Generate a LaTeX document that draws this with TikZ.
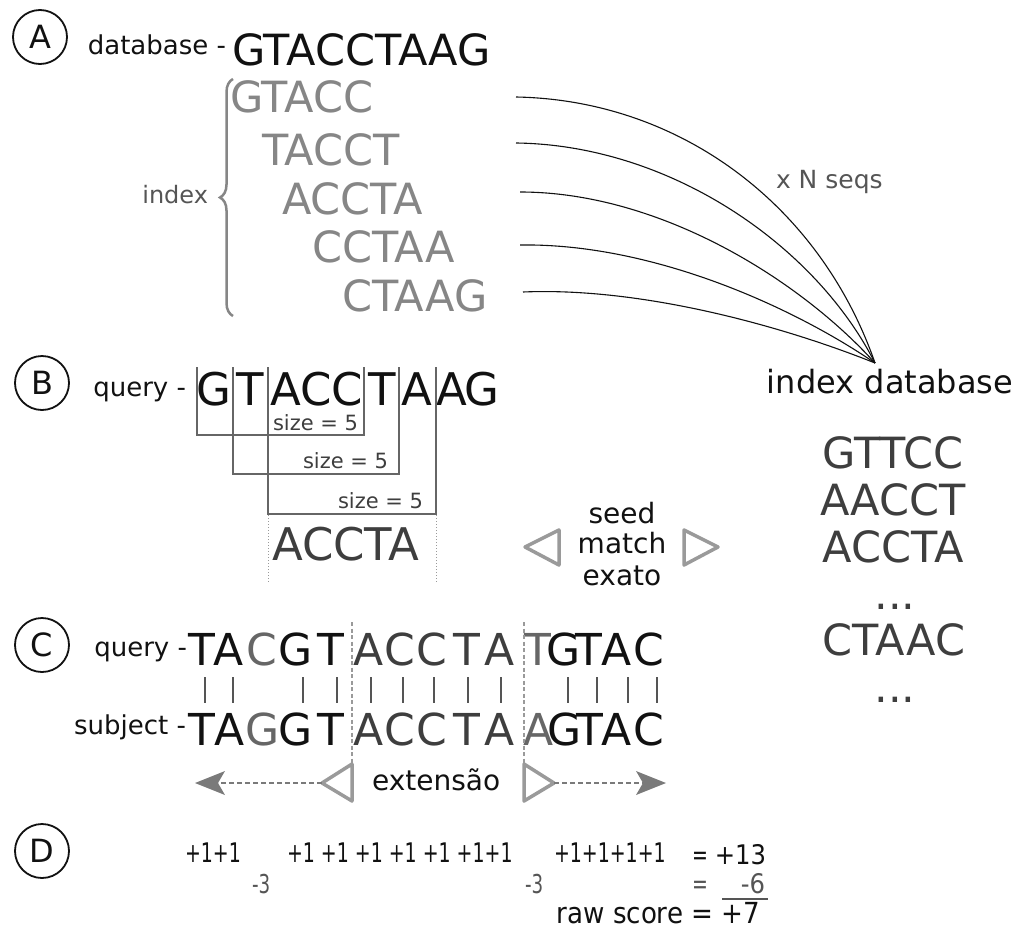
\documentclass[tikz,border=0pt]{standalone}
\usepackage{fontspec}
\setmainfont{DejaVu Sans}
\newfontfamily\condfont{DejaVu Sans Condensed}
\usetikzlibrary{decorations.pathreplacing, arrows.meta}
\newcommand\sz[1]{\fontsize{#1}{#1}\selectfont}
\newcommand\scoretxt[1]{\scalebox{0.78}[1]{#1}}

\definecolor{ink}{HTML}{111111}
\definecolor{kmer}{HTML}{868686}
\definecolor{note}{HTML}{555555}
\definecolor{seedc}{HTML}{3E3E3E}
\definecolor{midg}{HTML}{666666}
\definecolor{lightg}{HTML}{9A9A9A}
\definecolor{headg}{HTML}{7A7A7A}

\begin{document}
\begin{tikzpicture}[x=1pt, y=-1pt,
  txt/.style={inner sep=0pt, outer sep=0pt},
  tag/.style={circle, draw=ink, line width=1.8pt, minimum size=54pt, inner sep=0pt, font=\sz{32}, text=ink},
  kmerline/.style={txt, anchor=base west, font=\sz{43}, text=kmer},
  dbline/.style={txt, anchor=base, font=\sz{43}, text=seedc},
  fan/.style={draw=ink, line width=1.1pt},
  bracket/.style={draw=midg, line width=2pt},
  sizelbl/.style={txt, anchor=base west, font=\sz{21}, text=seedc},
  guide/.style={draw=lightg, line width=1pt, dotted},
  cut/.style={draw=lightg, line width=1.5pt, dash pattern=on 4pt off 2.5pt},
  opentri/.style={draw=lightg, line width=3.5pt, line join=round},
  extarrow/.style={draw=headg, line width=2pt, dash pattern=on 5pt off 3pt,
                   -{Stealth[length=30pt, width=24pt, inset=7pt, fill=headg, line width=0pt, sep=0pt]}},
  pairbar/.style={draw=note, line width=2pt},
  score/.style={txt, anchor=base west, font=\condfont\sz{27}, text=ink},
  penalty/.style={txt, anchor=base west, font=\condfont\sz{26}, text=note},
]
\useasboundingbox (0,0) rectangle (1024,931);

% ---------------- A: building the word index ----------------
\node[tag] (tA) at (40,37) {A};
\node[txt, anchor=base east, font=\sz{26}, text=ink] (dblbl) at (226,55) {database -};
\node[txt, anchor=base west, font=\sz{43}, text=ink] (dbseq) at (232,66) {GTACCTAAG};

\node[kmerline] (k1) at (230,113) {GTACC};
\node[kmerline] (k2) at (262,165) {TACCT};
\node[kmerline] (k3) at (282,214) {ACCTA};
\node[kmerline] (k4) at (312,262) {CCTAA};
\node[kmerline] (k5) at (342,311) {CTAAG};

\draw[decorate, decoration={brace, amplitude=13pt}, draw=kmer, line width=2.5pt]
  (233,316) -- (233,79);
\node[txt, anchor=base east, font=\sz{24}, text=note] (idxlbl) at (208,203) {index};

% fan of words into the index
\coordinate (s1) at (516,97);
\coordinate (s2) at (516,143);
\coordinate (s3) at (520,192);
\coordinate (s4) at (520,245);
\coordinate (s5) at (523,292);
\coordinate (hub) at (875,363);
\draw[fan] (s1) .. controls (680,100) and (820,205) .. (hub);
\draw[fan] (s2) .. controls (670,145) and (815,245) .. (hub);
\draw[fan] (s3) .. controls (660,192) and (800,280) .. (hub);
\draw[fan] (s4) .. controls (650,243) and (790,305) .. (hub);
\draw[fan] (s5) .. controls (640,287) and (780,325) .. (hub);
\node[txt, anchor=base west, font=\sz{25}, text=note] (nseqs) at (776,188) {x N seqs};

\node[txt, anchor=base, font=\sz{32}, text=ink] (idb) at (890,393) {index database};
\node[dbline] (d1) at (893,468) {GTTCC};
\node[dbline] (d2) at (893,515) {AACCT};
\node[dbline] (d3) at (893,562) {ACCTA};
\node[dbline] (d4) at (895,609) {...};
\node[dbline] (d5) at (894,655) {CTAAC};
\node[dbline] (d6) at (895,702) {...};

% ---------------- B: cutting the query into words ----------------
\node[tag] (tB) at (42,383) {B};
\node[txt, anchor=base east, font=\sz{26}, text=ink] (qlblB) at (186,396) {query -};
\foreach \x/\l [count=\i] in {214/G, 250/T, 286/A, 316/C, 347/C, 382/T, 417/A, 452/A, 482/G}
  \node[txt, anchor=base, font=\sz{45}, text=ink] (b\i) at (\x,405) {\l};

\draw[bracket] (197,367) -- (197,435) -- (364,435) -- (364,367);
\draw[bracket] (233,367) -- (233,474) -- (399,474) -- (399,367);
\draw[bracket] (268,367) -- (268,514) -- (436,514) -- (436,367);
\node[sizelbl] (sz1) at (273,430) {size = 5};
\node[sizelbl] (sz2) at (303,468) {size = 5};
\node[sizelbl] (sz3) at (338,508) {size = 5};

\draw[guide] (268,515) -- (268,582);
\draw[guide] (436,515) -- (436,582);
\node[txt, anchor=base west, font=\sz{45}, text=seedc] (hit) at (272,560) {ACCTA};

% exact seed match
\node[txt, anchor=base, font=\sz{28}, text=ink] (seed1) at (622,523) {seed};
\node[txt, anchor=base, font=\sz{28}, text=ink] (seed2) at (622,553) {match};
\node[txt, anchor=base, font=\sz{28}, text=ink] (seed3) at (622,585) {exato};
\draw[opentri] (559,530) -- (525,547) -- (559,565) -- cycle;
\draw[opentri] (684,530) -- (718,547) -- (684,565) -- cycle;

% ---------------- C: extending the hit ----------------
\node[tag] (tC) at (42,645) {C};
\node[txt, anchor=base east, font=\sz{26}, text=ink] (qlblC) at (187,656) {query -};
\node[txt, anchor=base east, font=\sz{26}, text=ink] (slblC) at (186,734) {subject -};

\foreach \x/\l/\c [count=\i] in {202/T/ink, 229/A/ink, 262/C/midg, 296/G/ink, 331/T/ink,
    369/A/seedc, 400/C/seedc, 432/C/seedc, 467/T/seedc, 500/A/seedc,
    538/T/midg, 564/G/ink, 589/T/ink, 617/A/ink, 649/C/ink}
  \node[txt, anchor=base, font=\sz{44}, text=\c] (q\i) at (\x,665) {\l};
\foreach \x/\l/\c [count=\i] in {202/T/ink, 230/A/ink, 263/G/midg, 296/G/ink, 331/T/ink,
    369/A/seedc, 400/C/seedc, 432/C/seedc, 467/T/seedc, 500/A/seedc,
    539/A/midg, 565/G/ink, 590/T/ink, 617/A/ink, 649/C/ink}
  \node[txt, anchor=base, font=\sz{44}, text=\c] (s\i) at (\x,745) {\l};

\foreach \x in {205, 233, 303, 337, 371, 403, 434, 468, 501, 568, 597, 628, 657}
  \draw[pairbar] (\x,677) -- (\x,703);

\draw[cut] (352,622) -- (352,801);
\draw[cut] (524,622) -- (524,801);

\coordinate (lt) at (322,783);
\coordinate (rt) at (554,783);
\coordinate (lend) at (195,783);
\coordinate (rend) at (666,783);
\draw[opentri] (352,764) -- (lt) -- (352,801) -- cycle;
\draw[opentri] (524,764) -- (rt) -- (524,801) -- cycle;
\draw[extarrow] (lt) -- (lend);
\draw[extarrow] (rt) -- (rend);
\node[txt, anchor=base west, font=\sz{28}, text=ink] (ext) at (372,790) {extensão};

% ---------------- D: scoring ----------------
\node[tag] (tD) at (42,851) {D};
\node[score] (p1) at (185,862) {\scoretxt{+1+1}};
\node[score] (p2) at (287,862) {\scoretxt{+1 +1 +1 +1 +1 +1+1}};
\node[score] (p3) at (554,862) {\scoretxt{+1+1+1+1}};
\node[penalty] (m1) at (252,893) {\scoretxt{-3}};
\node[penalty] (m2) at (525,893) {\scoretxt{-3}};

\node[txt, anchor=base west, font=\condfont\sz{27}, text=ink] (eq1) at (692,864) {\scoretxt{=}};
\node[txt, anchor=base east, font=\condfont\sz{27}, text=ink] (sum1) at (766,864) {+13};
\node[txt, anchor=base west, font=\condfont\sz{27}, text=note] (eq2) at (692,893) {\scoretxt{=}};
\node[txt, anchor=base east, font=\condfont\sz{27}, text=note] (sum2) at (765,893) {-6};
\draw[draw=note, line width=1.5pt] (722,899) -- (768,899);
\node[txt, anchor=base east, font=\condfont\sz{29}, text=ink] (raw) at (760,923) {raw score = +7};

\end{tikzpicture}
\end{document}
